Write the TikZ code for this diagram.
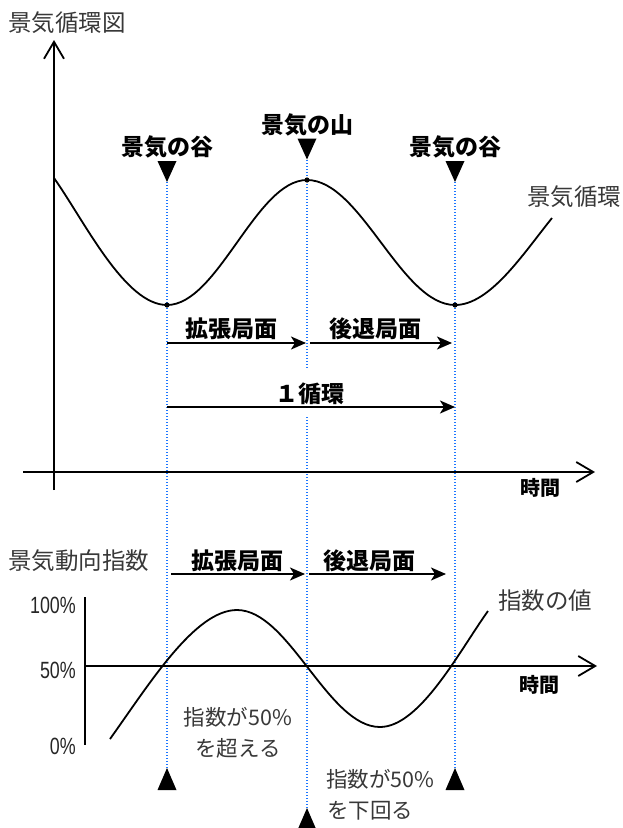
\documentclass[tikz,border=0pt]{standalone}
\usepackage{fontspec}
\usetikzlibrary{arrows.meta}
\newfontfamily\jp{Noto Sans CJK JP}
\newfontfamily\narrowf[FakeStretch=0.76]{Liberation Sans}
\definecolor{txtgray}{gray}{0.22}
\definecolor{dotblue}{RGB}{30,120,255}
\begin{document}
\begin{tikzpicture}[x=1pt,y=-1pt,
  lab/.style={font=\jp\bfseries\fontsize{23}{23}\selectfont, inner sep=0pt},
  glab/.style={font=\jp\fontsize{23.5}{23.5}\selectfont, text=txtgray, inner sep=0pt},
  slab/.style={font=\jp\fontsize{21.5}{21.5}\selectfont, text=txtgray, inner sep=0pt},
  tlab/.style={font=\jp\bfseries\fontsize{20}{20}\selectfont, inner sep=0pt},
  pct/.style={font=\narrowf\fontsize{23.5}{23.5}\selectfont, text=black!85, inner sep=0pt, anchor=east},
  axis/.style={line width=1.8pt, -{Straight Barb[length=17pt,width=20pt,line width=1.8pt]}},
  plainaxis/.style={line width=1.8pt},
  phase/.style={line width=1.8pt, -{Stealth[length=15pt,width=13pt,inset=4pt]}},
  guide/.style={draw=dotblue, line width=1.4pt, dash pattern=on 1.4pt off 1.6pt},
  curve/.style={line width=1.8pt},
  dotpt/.style={fill=black},
  downtri/.pic={\fill (-9.5,-10.5) -- (9.5,-10.5) -- (0,10.5) -- cycle;},
  uptri/.pic={\fill (-9.5,11) -- (9.5,11) -- (0,-11) -- cycle;}
]
\useasboundingbox (0,0) rectangle (622,828);

% ---------- guide lines ----------
\coordinate (g1a) at (167,182); \coordinate (g1b) at (167,768);
\coordinate (g2a) at (307,160); \coordinate (g2b) at (307,369);
\coordinate (g2c) at (307,417); \coordinate (g2d) at (307,808);
\coordinate (g3a) at (455,182); \coordinate (g3b) at (455,768);
\draw[guide] (g1a) -- (g1b);
\draw[guide] (g2a) -- (g2b);
\draw[guide] (g2c) -- (g2d);
\draw[guide] (g3a) -- (g3b);

% ---------- top axes ----------
\coordinate (yb) at (54,490); \coordinate (yt) at (54,40);
\coordinate (xl) at (23,472); \coordinate (xr) at (595,472);
\draw[axis] (yb) -- (yt);
\draw[axis] (xl) -- (xr);

% ---------- top curve ----------
\coordinate (c0) at (54,178);
\coordinate (t1) at (167,305);
\coordinate (pk) at (307,180);
\coordinate (t2) at (455,305);
\coordinate (c4) at (552,218);
\draw[curve] (c0) .. controls (85,222) and (125,305) .. (t1)
  .. controls (218,305) and (256,180) .. (pk)
  .. controls (361,180) and (401,305) .. (t2)
  .. controls (490,305) and (523,254) .. (c4);
\fill[dotpt] (t1) circle (2.6pt);
\fill[dotpt] (pk) circle (2.6pt);
\fill[dotpt] (t2) circle (2.6pt);

% ---------- top triangles and labels ----------
\pic at (167,171.5) {downtri};
\pic at (307,149) {downtri};
\pic at (455,171.5) {downtri};
\node[lab] (trough1) at (167,147) {景気の谷};
\node[lab] (peak) at (307,125) {景気の山};
\node[lab] (trough2) at (455,147) {景気の谷};

\node[glab] (title) at (67,23) {景気循環図};
\node[glab] (cyc) at (574,197) {景気循環};
\node[tlab] (time1) at (540,488) {時間};

% ---------- phase arrows (top) ----------
\coordinate (a1s) at (167,343); \coordinate (a1e) at (306,343);
\coordinate (a2s) at (310,343); \coordinate (a2e) at (452,343);
\coordinate (a3s) at (167,407); \coordinate (a3e) at (455,407);
\draw[phase] (a1s) -- (a1e);
\draw[phase] (a2s) -- (a2e);
\draw[phase] (a3s) -- (a3e);
\node[lab] (exp1) at (231,328.5) {拡張局面};
\node[lab] (rec1) at (375,328.5) {後退局面};
\node[lab] (one) at (310,394) {１循環};

% ---------- bottom section ----------
\node[glab] (di) at (79,561) {景気動向指数};
\coordinate (b1s) at (171,574); \coordinate (b1e) at (305,574);
\coordinate (b2s) at (309,574); \coordinate (b2e) at (446,574);
\draw[phase] (b1s) -- (b1e);
\draw[phase] (b2s) -- (b2e);
\node[lab] (exp2) at (237,561) {拡張局面};
\node[lab] (rec2) at (369,561) {後退局面};

\coordinate (ya) at (85,597); \coordinate (yz) at (85,745);
\draw[plainaxis] (ya) -- (yz);
\coordinate (x2l) at (85,666); \coordinate (x2r) at (597,666);
\draw[axis] (x2l) -- (x2r);

\node[pct] (p100) at (76,605) {100\%};
\node[pct] (p50) at (76,670) {50\%};
\node[pct] (p0) at (76,746) {0\%};

\coordinate (s0) at (110,739);
\coordinate (sp) at (237,610);
\coordinate (st) at (380,727);
\coordinate (se) at (488,611);
\draw[curve] (s0) .. controls (150,683) and (195,610) .. (sp)
  .. controls (289,610) and (328,727) .. (st)
  .. controls (420,727) and (460,650) .. (se);

\node[glab] (val) at (545,601) {指数の値};
\node[tlab] (time2) at (539,685) {時間};

\node[slab] (up1) at (238,717) {指数が50\%};
\node[slab] (up2) at (238,748) {を超える};
\node[slab, anchor=west] (dn1) at (326,779) {指数が50\%};
\node[slab, anchor=west] (dn2) at (327,811) {を下回る};

\pic at (167,779) {uptri};
\pic at (455,779) {uptri};
\pic at (307,819) {uptri};
\end{tikzpicture}
\end{document}
